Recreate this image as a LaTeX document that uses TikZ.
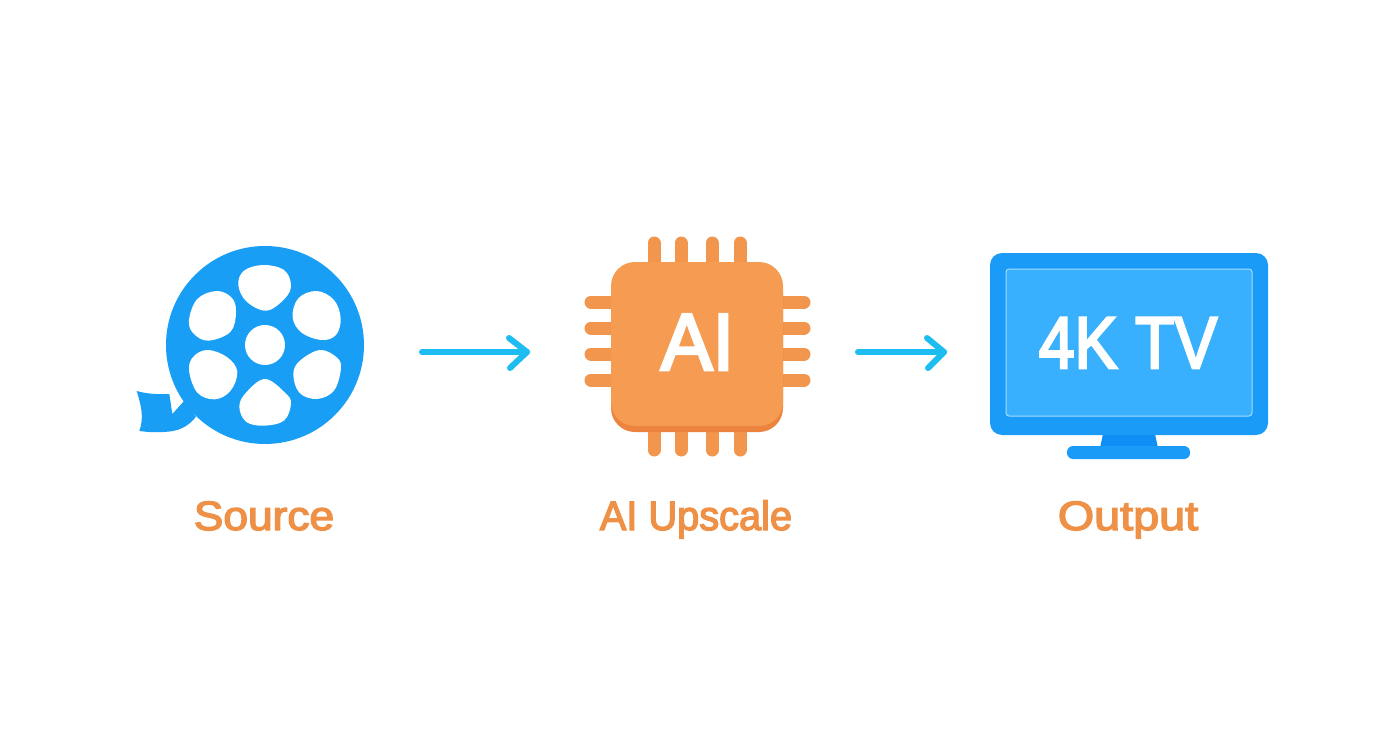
\documentclass[tikz,border=0pt]{standalone}
\usepackage{fontspec}
\usepackage{graphicx}
\setmainfont{Liberation Sans}
\newfontfamily\labelfont[FakeBold=3.2]{Liberation Sans}
\newfontfamily\iconfont[FakeBold=3.6]{Liberation Sans}
\definecolor{reelblue}{HTML}{189EF5}
\definecolor{tvblue}{HTML}{1A9BF8}
\definecolor{screenblue}{HTML}{38B0FD}
\definecolor{standblue}{HTML}{0F8FF5}
\definecolor{chip}{HTML}{F59B52}
\definecolor{pinor}{HTML}{F2964D}
\definecolor{chipdark}{HTML}{EC8440}
\definecolor{labelor}{HTML}{EE9147}
\definecolor{arrowblue}{HTML}{1DBDF2}
\tikzset{
  hole/.style={fill=white,draw=none},
  pin/.style={line width=13pt,line cap=round,draw=pinor},
  flowarrow/.style={draw=arrowblue,line width=6pt,line cap=round,line join=round},
  steplabel/.style={text=labelor,font=\fontsize{41}{41}\selectfont\labelfont,anchor=base,inner sep=0pt},
  iconlabel/.style={inner sep=0pt,text=white,anchor=base},
}
\begin{document}
\begin{tikzpicture}[x=1pt,y=-1pt]
\useasboundingbox (0,0) rectangle (1392,752);
\fill[white] (0,0) rectangle (1392,752);
% film reel
\begin{scope}[shift={(120,230)},x=0.3333pt,y=-0.3333pt]
\fill[reelblue] (435,345) circle[radius=297];
\fill[reelblue] (50,483) .. controls (80,492) and (120,494) .. (148,492) -- (157,552) -- (195,510) -- (228,560) .. controls (205,590) and (175,605) .. (130,606) .. controls (105,608) and (80,606) .. (58,603) .. controls (72,565) and (65,530) .. (50,483) -- cycle;
\fill[hole] plot[smooth cycle,tension=0.62] coordinates {(355,165)(372,122)(430,105)(492,120)(513,165)(495,205)(440,242)(380,215)};
\fill[hole] plot[smooth cycle,tension=0.62] coordinates {(518,262)(535,205)(590,183)(642,210)(662,265)(648,315)(605,330)(545,308)};
\fill[hole] plot[smooth cycle,tension=0.62] coordinates {(207,270)(232,207)(290,183)(335,203)(348,245)(332,305)(265,332)(220,310)};
\fill[hole] plot[smooth cycle,tension=0.62] coordinates {(207,420)(222,378)(265,360)(322,382)(352,425)(332,482)(285,508)(232,488)};
\fill[hole] plot[smooth cycle,tension=0.62] coordinates {(520,432)(540,392)(600,360)(650,382)(663,415)(642,482)(590,507)(538,488)};
\fill[hole] plot[smooth cycle,tension=0.62] coordinates {(358,530)(378,488)(435,447)(495,488)(513,520)(492,572)(430,587)(378,575)};
\fill[hole] (435,345) circle[radius=60];
\end{scope}
% chip pins
\foreach \x in {654,681,712,740}{
  \draw[pin] (\x,243) -- (\x,270);
  \draw[pin] (\x,425) -- (\x,450);
}
\foreach \y in {302,328,354,380}{
  \draw[pin] (591,\y) -- (620,\y);
  \draw[pin] (775,\y) -- (804,\y);
}
% chip body
\fill[chipdark,rounded corners=24pt] (611,270) rectangle (783,432);
\fill[chip,rounded corners=24pt] (611,262) rectangle (783,426);
\node[iconlabel,font=\fontsize{81}{81}\selectfont\iconfont] (ailabel) at (697.5,370) {\scalebox{0.96}[1]{AI}};
% TV
\fill[standblue] (1103,434) -- (1155,434) -- (1158,448) -- (1100,448) -- cycle;
\fill[tvblue,rounded corners=6pt] (1067,446) rectangle (1190,459);
\fill[tvblue,rounded corners=12pt] (990,253) rectangle (1268,435);
\draw[draw=white!55!screenblue,fill=screenblue,line width=1pt,rounded corners=3pt] (1006,269) rectangle (1252,416);
\node[iconlabel,font=\fontsize{73}{73}\selectfont\iconfont] (tvlabel) at (1128,368) {\scalebox{0.88}[1]{4K TV}};
% arrows
\coordinate (a1s) at (422,352);
\coordinate (a1h1) at (509,338);
\coordinate (a1e) at (527,352);
\coordinate (a1h2) at (510,368);
\coordinate (a2s) at (858,352);
\coordinate (a2h1) at (927,338);
\coordinate (a2e) at (944,352);
\coordinate (a2h2) at (928,368);
\draw[flowarrow] (a1s) -- (a1e);
\draw[flowarrow] (a1h1) -- (a1e) -- (a1h2);
\draw[flowarrow] (a2s) -- (a2e);
\draw[flowarrow] (a2h1) -- (a2e) -- (a2h2);
% labels
\node[steplabel] (source) at (264,530) {\scalebox{1.08}[1]{Source}};
\node[steplabel] (upscale) at (696,530) {\scalebox{0.97}[1]{AI Upscale}};
\node[steplabel] (output) at (1128,530) {\scalebox{1.14}[1]{Output}};
\end{tikzpicture}
\end{document}
